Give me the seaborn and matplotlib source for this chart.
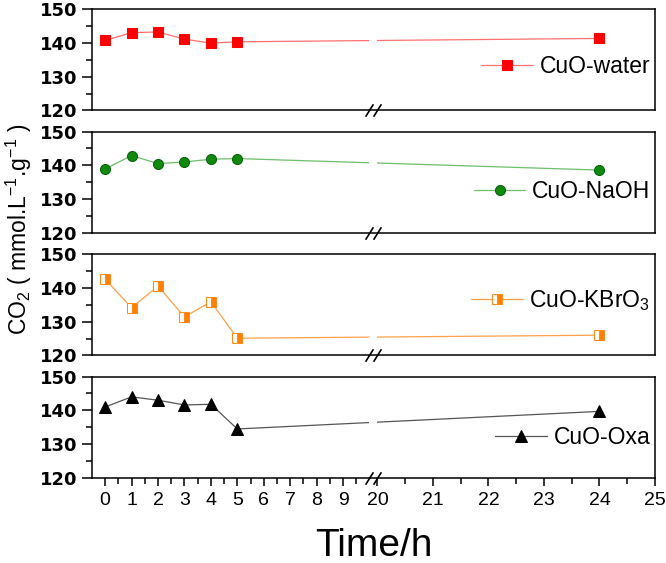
import numpy as np
import pandas as pd
import matplotlib
matplotlib.use("Agg")
import matplotlib.pyplot as plt
import seaborn as sns

# Data
time_h = [0, 1, 2, 3, 4, 5, 24]
cuo_water = [140.7, 143.0, 143.2, 141.1, 139.9, 140.3, 141.3]
cuo_naoh = [138.9, 142.9, 140.5, 141.0, 141.8, 142.0, 138.6]
cuo_kbro3 = [142.6, 134.1, 140.5, 131.4, 135.9, 125.1, 126.0]
cuo_oxa = [141.0, 144.0, 143.0, 141.6, 141.8, 134.5, 139.7]
series_labels = ["CuO-water", "CuO-NaOH", "CuO-KBrO$_3$", "CuO-Oxa"]
x_major = [0, 1, 2, 3, 4, 5, 6, 7, 8, 9, 20, 21, 22, 23, 24, 25]
x_minor = [0.5, 1.5, 2.5, 3.5, 4.5, 5.5, 6.5, 7.5, 8.5, 9.5,
           20.5, 21.5, 22.5, 23.5, 24.5]
y_major = [120, 130, 140, 150]
y_minor = [125, 135, 145]

df = pd.DataFrame({"time": time_h, "CuO-water": cuo_water, "CuO-NaOH": cuo_naoh,
                   "CuO-KBrO3": cuo_kbro3, "CuO-Oxa": cuo_oxa})
cols = ["CuO-water", "CuO-NaOH", "CuO-KBrO3", "CuO-Oxa"]

sns.set_style("ticks")
plt.rcParams["font.family"] = ["Liberation Sans", "DejaVu Sans"]
plt.rcParams["mathtext.fontset"] = "custom"
plt.rcParams["mathtext.rm"] = "Liberation Sans"
plt.rcParams["mathtext.it"] = "Liberation Sans:italic"
plt.rcParams["axes.linewidth"] = 1.1
for key in ["text.color", "axes.labelcolor", "xtick.color", "ytick.color", "axes.edgecolor"]:
    plt.rcParams[key] = "black"

# broken time axis: 0-10 normal, 10-20 squeezed, 20-25 stretched
GAP = 0.3
K = 2.1


def fwd(x):
    x = np.asarray(x, dtype=float)
    return np.where(x <= 10, x,
                    np.where(x < 20, 10 + (x - 10) * GAP / 10, 10 + GAP + (x - 20) * K))


def inv(u):
    u = np.asarray(u, dtype=float)
    return np.where(u <= 10, u,
                    np.where(u < 10 + GAP, 10 + (u - 10) * 10 / GAP, 20 + (u - 10 - GAP) / K))


styles = [
    dict(marker="s", color="#ff7070", mfc="#ff0000", mec="#ff0000", ms=6.7),
    dict(marker="o", color="#6cbf6c", mfc="#0f8a0f", mec="#086008", ms=7.2),
    dict(marker="s", color="#ffa04a", mfc="#ff7f00", mec="#ff8c1a", ms=6.5,
         fillstyle="right", markerfacecoloralt="white"),
    dict(marker="^", color="#555555", mfc="#000000", mec="#000000", ms=8),
]
legend_y = [0.43, 0.41, 0.54, 0.40]

fig, axes = plt.subplots(4, 1, figsize=(6.66, 5.63), dpi=100, sharex=True)
fig.subplots_adjust(left=0.138, right=0.9835, top=0.984, bottom=0.151, hspace=0.208)

for i, ax in enumerate(axes):
    st = styles[i]
    sns.lineplot(data=df, x="time", y=cols[i], ax=ax, label=series_labels[i],
                 lw=0.9, **st)
    ax.set_xscale("function", functions=(fwd, inv))
    ax.set_xlim(-0.5, 25)
    ax.set_ylim(120, 150)
    ax.set_yticks(y_major)
    ax.set_yticks(y_minor, minor=True)
    ax.set_ylabel("")
    ax.set_xlabel("")
    ax.tick_params(axis="y", which="major", direction="out", length=7, width=1.1,
                   labelsize=13)
    ax.tick_params(axis="y", which="minor", direction="out", length=4, width=1.1)
    for t in ax.get_yticklabels():
        t.set_fontfamily("DejaVu Sans")
        t.set_fontweight("bold")
    # hide line inside the break
    ax.axvspan(10, 20, color="white", lw=0, zorder=2.2)
    # break marks on the bottom spine
    ax.plot([10, 20], [0, 0], transform=ax.get_xaxis_transform(), ls="none",
            marker=[(-1, -1.6), (1, 1.6)], ms=9, mec="black", mew=1.2,
            clip_on=False, zorder=6)
    ax.legend(loc="center right", bbox_to_anchor=(1.0, legend_y[i]),
              frameon=False, fontsize=16.5, handlelength=2.25, handletextpad=0.3,
              borderpad=0.1, borderaxespad=0.1, numpoints=1)
    if i < 3:
        ax.tick_params(axis="x", which="both", length=0)

bottom = axes[-1]
bottom.set_xticks(x_major)
bottom.set_xticks(x_minor, minor=True)
bottom.set_xticklabels([str(v) for v in x_major])
bottom.tick_params(axis="x", which="major", direction="out", length=6, width=1.1,
                   labelsize=14, pad=4)
bottom.tick_params(axis="x", which="minor", direction="out", length=4, width=1.1)
bottom.set_xlabel("Time/h", fontsize=28, labelpad=14)

fig.text(0.028, 0.593, "CO$_2$ ( mmol.L$^{-1}$.g$^{-1}$ )", rotation=90,
         ha="center", va="center", fontsize=16.5)

fig.savefig("out.png", dpi=100)
